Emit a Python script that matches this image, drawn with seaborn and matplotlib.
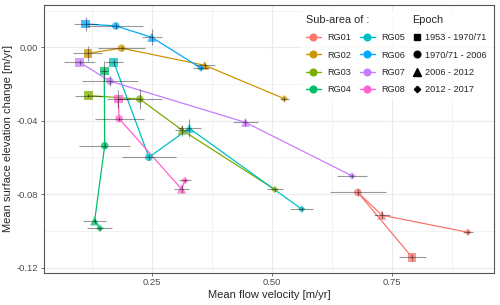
import numpy as np
import pandas as pd
import seaborn as sns
import matplotlib
matplotlib.use("Agg")
import matplotlib.pyplot as plt
from matplotlib.lines import Line2D
from matplotlib.ticker import MultipleLocator, FormatStrFormatter

# data
areas = ['RG01', 'RG02', 'RG03', 'RG04', 'RG05', 'RG06', 'RG07', 'RG08']
epochs = ['1953 - 1970/71', '1970/71 - 2006', '2006 - 2012', '2012 - 2017']

velocity = {
    'RG01': [0.792, 0.679, 0.729, 0.908],
    'RG02': [0.117, 0.187, 0.360, 0.526],
    'RG03': [0.118, 0.225, 0.313, 0.506],
    'RG04': [0.151, 0.152, 0.131, 0.142],
    'RG05': [0.171, 0.244, 0.328, 0.562],
    'RG06': [0.1125, 0.175, 0.250, 0.352],
    'RG07': [0.100, 0.1625, 0.445, 0.667],
    'RG08': [0.180, 0.182, 0.312, 0.319],
}
elev_change = {
    'RG01': [-0.1144, -0.0790, -0.0914, -0.1007],
    'RG02': [-0.0033, -0.0005, -0.0098, -0.0280],
    'RG03': [-0.0263, -0.0282, -0.0451, -0.0774],
    'RG04': [-0.0129, -0.0536, -0.0945, -0.0986],
    'RG05': [-0.0082, -0.0599, -0.0441, -0.0881],
    'RG06': [0.0127, 0.0116, 0.0054, -0.0113],
    'RG07': [-0.0082, -0.0184, -0.0409, -0.0700],
    'RG08': [-0.0282, -0.0389, -0.0772, -0.0725],
}
velocity_err = {
    'RG01': [0.028, 0.058, 0.017, 0.011],
    'RG02': [0.030, 0.048, 0.021, 0.010],
    'RG03': [0.028, 0.046, 0.014, 0.017],
    'RG04': [0.008, 0.053, 0.024, 0.026],
    'RG05': [0.019, 0.057, 0.024, 0.024],
    'RG06': [0.025, 0.057, 0.021, 0.017],
    'RG07': [0.032, 0.058, 0.026, 0.031],
    'RG08': [0.024, 0.051, 0.016, 0.013],
}
elev_err = {
    'RG01': [0.002, 0.002, 0.002, 0.001],
    'RG02': [0.004, 0.001, 0.0015, 0.001],
    'RG03': [0.001, 0.0053, 0.003, 0.001],
    'RG04': [0.0055, 0.0015, 0.001, 0.001],
    'RG05': [0.002, 0.0015, 0.005, 0.001],
    'RG06': [0.004, 0.0015, 0.0043, 0.001],
    'RG07': [0.0015, 0.0025, 0.002, 0.001],
    'RG08': [0.0047, 0.001, 0.002, 0.001],
}

colors = ['#F8766D', '#CD9600', '#7CAE00', '#00BE67',
          '#00BFC4', '#00A9FF', '#C77CFF', '#FF61CC']
palette = dict(zip(areas, colors))
markers = dict(zip(epochs, ['s', 'o', '^', 'D']))
msizes = dict(zip(epochs, [40, 30, 42, 14]))

rows = []
for a in areas:
    for i, e in enumerate(epochs):
        rows.append((a, e, velocity[a][i], elev_change[a][i],
                     velocity_err[a][i], elev_err[a][i]))
df = pd.DataFrame(rows, columns=['area', 'epoch', 'vel', 'dh', 'vel_err', 'dh_err'])

sns.set_style('white')
plt.rcParams['font.family'] = ['Liberation Sans', 'DejaVu Sans']
plt.rcParams['axes.unicode_minus'] = False

fig = plt.figure(figsize=(5, 3.05), dpi=100)
ax = fig.add_axes([0.088, 0.106, 0.9, 0.877])

sns.lineplot(data=df, x='vel', y='dh', hue='area', palette=palette, sort=False,
             estimator=None, lw=0.9, legend=False, ax=ax, zorder=2)
sns.scatterplot(data=df, x='vel', y='dh', hue='area', palette=palette,
                style='epoch', markers=markers, size='epoch', sizes=msizes,
                alpha=0.75, linewidth=0, legend=False, ax=ax, zorder=3)
ax.errorbar(df['vel'], df['dh'], xerr=df['vel_err'], yerr=df['dh_err'],
            fmt='none', ecolor='black', alpha=0.4, elinewidth=0.8, capsize=0, zorder=4)

ax.set_xlim(0.0256, 0.9625)
ax.set_ylim(-0.1227, 0.0229)
ax.xaxis.set_major_locator(MultipleLocator(0.25))
ax.xaxis.set_minor_locator(MultipleLocator(0.125))
ax.yaxis.set_major_locator(MultipleLocator(0.04))
ax.yaxis.set_minor_locator(MultipleLocator(0.02))
ax.xaxis.set_major_formatter(FormatStrFormatter('%.2f'))
ax.yaxis.set_major_formatter(FormatStrFormatter('%.2f'))
ax.grid(which='major', color='#EBEBEB', lw=0.8)
ax.grid(which='minor', color='#EBEBEB', lw=0.4)
ax.set_axisbelow(True)
for s in ax.spines.values():
    s.set_color('#555555')
    s.set_linewidth(0.8)
ax.tick_params(which='major', length=2.5, width=0.6, color='#555555',
               labelsize=6.8, labelcolor='#4D4D4D', pad=1.5,
               bottom=True, left=True)
ax.tick_params(which='minor', length=0)
ax.set_xlabel('Mean flow velocity [m/yr]', fontsize=8, labelpad=2)
ax.set_ylabel('Mean surface elevation change [m/yr]', fontsize=8, labelpad=3)

# legends
area_handles = [Line2D([0], [0], color=palette[a], marker='o', ms=4.8, lw=1) for a in areas]
leg1 = ax.legend(area_handles, areas, title='Sub-area of :', ncol=2, loc='upper left',
                 bbox_to_anchor=(0.574, 0.978), borderaxespad=0, frameon=True,
                 fontsize=6.6, title_fontsize=7.8, alignment='left',
                 handlelength=1.6, handletextpad=0.7, columnspacing=1.0,
                 labelspacing=0.92, borderpad=0.4, fancybox=False)
leg1.get_frame().set_facecolor('white')
leg1.get_frame().set_edgecolor('white')
ax.add_artist(leg1)

epoch_handles = [Line2D([0], [0], color='black', marker=markers[e], lw=0,
                        ms={'s': 4.8, 'o': 4.8, '^': 5.5, 'D': 3.2}[markers[e]]) for e in epochs]
leg2 = ax.legend(epoch_handles, epochs, title='Epoch', loc='upper left',
                 bbox_to_anchor=(0.811, 0.978), borderaxespad=0, frameon=True,
                 fontsize=6.6, title_fontsize=7.8, alignment='left',
                 handlelength=1.0, handletextpad=0.4,
                 labelspacing=0.92, borderpad=0.4, fancybox=False)
leg2.get_frame().set_facecolor('white')
leg2.get_frame().set_edgecolor('white')

fig.savefig('out.png', dpi=100)
